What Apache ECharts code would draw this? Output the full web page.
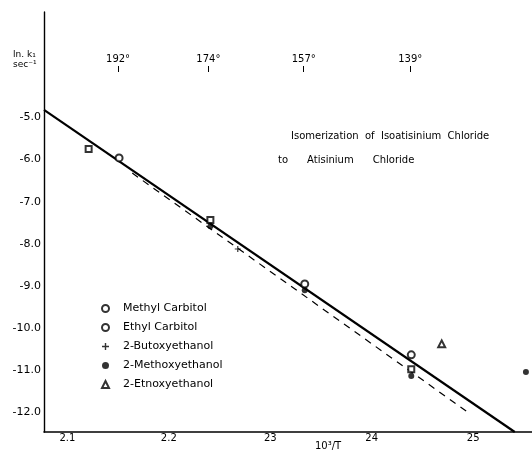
<!DOCTYPE html>
<html>
<head>
<meta charset="utf-8">
<script src="https://cdn.jsdelivr.net/npm/echarts@6/dist/echarts.min.js"></script>
<style>
  html, body { margin: 0; padding: 0; background: #fff; }
  #chart { width: 532px; height: 450px; }
</style>
</head>
<body>
<div id="chart"></div>
<script>
// axis ticks as printed on the figure
const xTicks = [2.1, 2.2, 2.3, 2.4, 2.5];
const xTickLabels = ['2.1', '2.2', '23', '24', '25'];
const yTicks = [-5, -6, -7, -8, -9, -10, -11, -12];
const tempTicks = [2.150, 2.239, 2.333, 2.438];
const tempLabels = ['192°', '174°', '157°', '139°'];

// measured points (10^3/T, ln k1)
const methylCarbitol = [[2.151, -5.96], [2.334, -8.95], [2.439, -10.63]];
const ethylCarbitol = [[2.121, -5.75], [2.241, -7.43], [2.439, -10.97]];
const butoxyethanol = [[2.268, -8.12]];
const methoxyethanol = [[2.241, -7.58], [2.334, -9.10], [2.439, -11.13], [2.552, -11.04]];
const ethoxyethanol = [[2.469, -10.37]];

// fitted lines
const solidFit = [[2.077, -4.82], [2.541, -12.46]];
const dashedFit = [[2.164, -6.32], [2.497, -12.03]];

const font = 'DejaVu Sans';
const plus = 'path://M4,0h2v4h4v2h-4v4h-2v-4h-4v-2h4z';

function pick(list, labels, v) {
  const i = list.findIndex(t => Math.abs(t - v) < 1e-6);
  return i < 0 ? '' : labels[i];
}

const chart = echarts.init(document.getElementById('chart'));

const markerSeries = (name, data, symbol, size, filled) => ({
  name: name,
  type: 'scatter',
  data: data,
  symbol: symbol,
  symbolSize: size,
  itemStyle: {
    color: '#000',
    borderColor: '#000',
    borderWidth: filled ? 0 : 1.1
  },
  z: 5
});

const option = {
  animation: false,
  backgroundColor: '#fff',
  textStyle: { fontFamily: font, color: '#000' },
  title: [
    {
      text: 'ln. k\u2081\nsec\u207B\u00B9',
      left: 8, top: 45,
      textStyle: { fontSize: 9, fontWeight: 'normal', lineHeight: 10, color: '#000', fontFamily: font }
    },
    {
      text: 'Isomerization  of  Isoatisinium  Chloride',
      left: 286, top: 126,
      textStyle: { fontSize: 10, fontWeight: 'normal', color: '#000', fontFamily: font }
    },
    {
      text: 'to      Atisinium      Chloride',
      left: 273, top: 150,
      textStyle: { fontSize: 10, fontWeight: 'normal', color: '#000', fontFamily: font }
    },
    {
      text: '10\u00B3/T',
      left: 310, top: 436,
      textStyle: { fontSize: 10, fontWeight: 'normal', color: '#000', fontFamily: font }
    }
  ],
  legend: {
    orient: 'vertical',
    left: 96,
    top: 298,
    itemWidth: 7,
    itemHeight: 7,
    itemGap: 8,
    textStyle: { fontSize: 11, color: '#000', fontFamily: font, padding: [0, 0, 0, 9] },
    data: [
      { name: 'Methyl Carbitol', icon: 'emptyCircle' },
      { name: 'Ethyl Carbitol', icon: 'emptyCircle' },
      { name: '2-Butoxyethanol', icon: plus },
      { name: '2-Methoxyethanol', icon: 'circle' },
      { name: '2-Etnoxyethanol', icon: 'emptyTriangle' }
    ]
  },
  grid: { left: 44, right: 0, top: 12, bottom: 18 },
  xAxis: [
    {
      type: 'value',
      position: 'bottom',
      min: 2.077,
      max: 2.558,
      axisLine: { show: true, lineStyle: { color: '#000', width: 1.6 } },
      axisTick: { show: false },
      splitLine: { show: false },
      axisLabel: {
        customValues: xTicks,
        formatter: v => pick(xTicks, xTickLabels, v),
        margin: 1,
        fontSize: 10,
        color: '#000',
        fontFamily: font
      }
    },
    {
      type: 'value',
      position: 'top',
      offset: -60,
      min: 2.077,
      max: 2.558,
      axisLine: { show: false },
      axisTick: {
        show: true,
        customValues: tempTicks,
        length: 6,
        lineStyle: { color: '#000', width: 1 }
      },
      splitLine: { show: false },
      axisLabel: {
        customValues: tempTicks,
        formatter: v => pick(tempTicks, tempLabels, v),
        margin: 8,
        fontSize: 10,
        color: '#000',
        fontFamily: font
      }
    }
  ],
  yAxis: {
    type: 'value',
    min: -12.46,
    max: -2.5,
    axisLine: { show: true, lineStyle: { color: '#000', width: 1.4 } },
    axisTick: { show: false },
    splitLine: { show: false },
    axisLabel: {
      customValues: yTicks,
      formatter: v => v.toFixed(1),
      margin: 3,
      fontSize: 11,
      color: '#000',
      fontFamily: font
    }
  },
  series: [
    {
      type: 'line',
      data: solidFit,
      symbol: 'none',
      silent: true,
      lineStyle: { color: '#000', width: 2.2 },
      z: 3
    },
    {
      type: 'line',
      data: dashedFit,
      symbol: 'none',
      silent: true,
      lineStyle: { color: '#000', width: 1.2, type: [7, 6] },
      z: 3
    },
    markerSeries('Methyl Carbitol', methylCarbitol, 'emptyCircle', 7, false),
    markerSeries('Ethyl Carbitol', ethylCarbitol, 'emptyRect', 6, false),
    markerSeries('2-Butoxyethanol', butoxyethanol, plus, 6, true),
    markerSeries('2-Methoxyethanol', methoxyethanol, 'circle', 6, true),
    markerSeries('2-Etnoxyethanol', ethoxyethanol, 'emptyTriangle', 7, false)
  ]
};

chart.setOption(option);
</script>
</body>
</html>
